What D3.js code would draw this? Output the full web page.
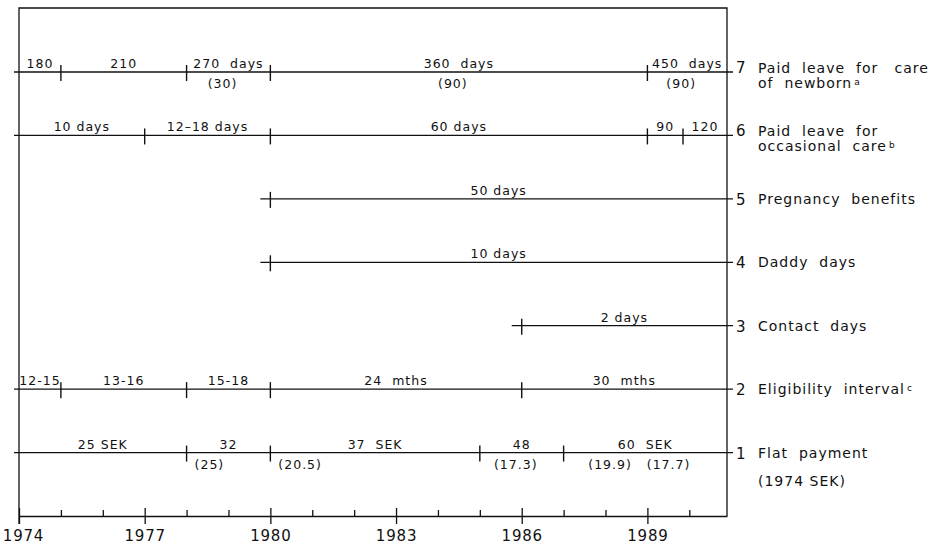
<!DOCTYPE html>
<html>
<head>
<meta charset="utf-8">
<script src="https://cdn.jsdelivr.net/npm/d3@7"></script>
<style>
  body { margin: 0; background: #fff; }
  svg text { font-family: "DejaVu Sans", sans-serif; fill: #111; white-space: pre; }
</style>
</head>
<body>
<div id="chart"></div>
<script>
// years shown, the frame runs a little past 1990
const yearStart = 1974, yearEnd = 1990.9;
const axisYears = d3.range(1974, 1991);

// rows, top to bottom
const rowIds = [7, 6, 5, 4, 3, 2, 1];
const rowNames = [
    ["Paid  leave  for   care", "of  newborn"],
    ["Paid  leave  for", "occasional  care"],
    ["Pregnancy  benefits"],
    ["Daddy  days"],
    ["Contact  days"],
    ["Eligibility  interval"],
    ["Flat  payment", "(1974 SEK)"]
];
const rowNotes = ["a", "b", "", "", "", "c", ""];

// segment start years and the texts above / below each segment
const breaks7 = [1974, 1975, 1978, 1980, 1989];
const above7 = ["180", "210", "270  days", "360  days", "450  days"];
const below7 = ["", "", "(30)", "(90)", "(90)"];

const breaks6 = [1974, 1977, 1980, 1989, 1989.85];
const above6 = ["10 days", "12–18 days", "60 days", "90", "120"];
const below6 = ["", "", "", "", ""];

const breaks5 = [1980];
const above5 = ["50 days"];
const below5 = [""];

const breaks4 = [1980];
const above4 = ["10 days"];
const below4 = [""];

const breaks3 = [1986];
const above3 = ["2 days"];
const below3 = [""];

const breaks2 = [1974, 1975, 1978, 1980, 1986];
const above2 = ["12-15", "13-16", "15-18", "24  mths", "30  mths"];
const below2 = ["", "", "", "", ""];

const breaks1 = [1974, 1978, 1980, 1985, 1987];
const above1 = ["25 SEK", "32", "37  SEK", "48", "60  SEK"];
const below1 = ["", "(25)", "(20.5)", "(17.3)", "(19.9)   (17.7)"];

const rowBreaks = [breaks7, breaks6, breaks5, breaks4, breaks3, breaks2, breaks1];
const rowAbove = [above7, above6, above5, above4, above3, above2, above1];
const rowBelow = [below7, below6, below5, below4, below3, below2, below1];

const W = 930, H = 546;
const x = d3.scaleLinear().domain([yearStart, yearEnd]).range([19, 727]);
const y = d3.scaleLinear().domain([0, 7]).range([516, 72]);
const frameTop = 8;

const svg = d3.select("#chart").append("svg")
    .attr("width", W)
    .attr("height", H);

const ink = "#111";

// frame
svg.append("path")
    .attr("d", "M" + x(yearStart) + "," + (y(0) + 8) + "V" + frameTop + "H" + x(yearEnd) + "V" + y(0))
    .attr("fill", "none")
    .attr("stroke", ink)
    .attr("stroke-width", 1.3);

// bottom axis
const axis = svg.append("g")
    .attr("transform", "translate(0," + y(0) + ")")
    .call(d3.axisBottom(x).tickValues(axisYears).tickFormat(d => d % 3 === 0 ? d : "").tickSizeOuter(0));
axis.select(".domain").attr("stroke", ink).attr("stroke-width", 1.3);
axis.selectAll(".tick line")
    .attr("stroke", ink)
    .attr("stroke-width", 1.3)
    .attr("y1", d => d % 3 === 0 ? -8 : -6)
    .attr("y2", d => d % 3 === 0 ? 8 : 0);
axis.selectAll(".tick text")
    .attr("y", 14)
    .attr("dy", "0.71em")
    .attr("dx", d => d === yearStart ? 4 : 0)
    .style("font-size", "15px")
    .style("letter-spacing", "0.8px")
    .attr("fill", ink);

// rows
rowIds.forEach((id, i) => {
    const ry = y(id);
    const starts = rowBreaks[i];
    const ends = starts.slice(1).concat([yearEnd]);
    const g = svg.append("g").attr("class", "row");

    const x0 = starts[0] === yearStart ? x(yearStart) - 5 : x(starts[0]) - 10;
    g.append("line")
        .attr("x1", x0).attr("x2", x(yearEnd) + 6)
        .attr("y1", ry).attr("y2", ry)
        .attr("stroke", ink)
        .attr("stroke-width", 1.3);

    // break ticks
    g.selectAll(".brk")
        .data(starts.filter(s => s !== yearStart))
        .enter().append("line")
        .attr("class", "brk")
        .attr("x1", d => x(d)).attr("x2", d => x(d))
        .attr("y1", ry - 7).attr("y2", ry + 9)
        .attr("stroke", ink)
        .attr("stroke-width", 1.4);

    // labels above
    g.selectAll(".up")
        .data(starts)
        .enter().append("text")
        .attr("class", "up")
        .attr("x", (d, j) => (x(d) + x(ends[j])) / 2)
        .attr("y", ry - 4)
        .attr("text-anchor", "middle")
        .style("font-size", "12.5px")
        .style("letter-spacing", "1px")
        .text((d, j) => rowAbove[i][j]);

    // labels below
    const startAligned = ["(25)", "(20.5)"];
    g.selectAll(".down")
        .data(starts)
        .enter().append("text")
        .attr("class", "down")
        .attr("x", (d, j) => startAligned.includes(rowBelow[i][j]) ? x(d) + 8 : (x(d) + x(ends[j])) / 2 - 6)
        .attr("y", ry + 16)
        .attr("text-anchor", (d, j) => startAligned.includes(rowBelow[i][j]) ? "start" : "middle")
        .style("font-size", "12.5px")
        .style("letter-spacing", "1px")
        .text((d, j) => rowBelow[i][j]);

    // right hand label
    const names = rowNames[i];
    const twoLines = names.length > 1 && id !== 1;
    g.append("text")
        .attr("x", x(yearEnd) + 9)
        .attr("y", ry + (twoLines ? 1 : 6))
        .style("font-size", "15px")
        .text(id);
    names.forEach((n, k) => {
        const t = g.append("text")
            .attr("x", x(yearEnd) + 31)
            .attr("y", k === 0 ? ry + (twoLines ? 1 : 5) : ry + (id === 1 ? 33 : 16))
            .style("font-size", "14px")
            .style("letter-spacing", "1px")
            .text(n);
        if (k === names.length - 1 && rowNotes[i]) {
            t.append("tspan")
                .attr("dx", 2)
                .attr("dy", -3)
                .style("font-size", "9px")
                .text(rowNotes[i]);
        }
    });
});
</script>
</body>
</html>
